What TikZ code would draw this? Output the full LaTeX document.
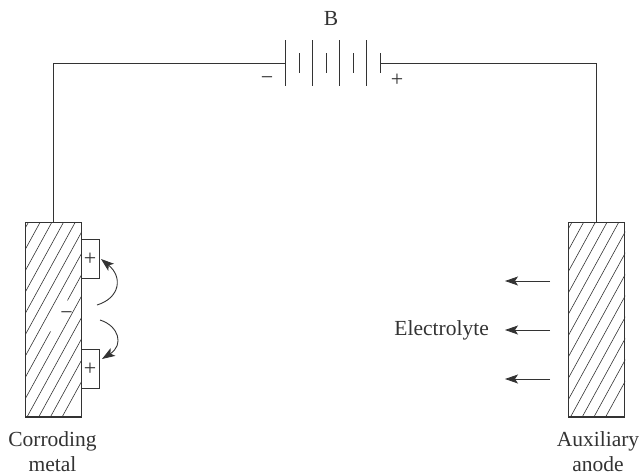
\documentclass[tikz,border=0pt]{standalone}
\usepackage{fontspec}
\setmainfont{Liberation Serif}
\usetikzlibrary{arrows.meta}
\definecolor{ink}{gray}{0.2}
\tikzset{
  wire/.style={draw=ink,line width=0.9pt},
  hatchline/.style={draw=ink,line width=0.6pt},
  block/.style={draw=ink,line width=1.1pt,minimum width=56pt,minimum height=194.5pt,inner sep=0pt,outer sep=0pt},
  chargebox/.style={draw=ink,line width=0.9pt,minimum width=18pt,minimum height=39pt,inner sep=0pt,outer sep=0pt},
  flow/.style={draw=ink,line width=0.9pt,-{Stealth[length=13pt,width=9pt,inset=3pt]}},
  lbl/.style={text=ink,font=\fontsize{21.5}{24.5}\selectfont,inner sep=0pt,align=center},
  sym/.style={text=ink,font=\fontsize{22}{24}\selectfont,inner sep=0pt}
}
\begin{document}
\begin{tikzpicture}[x=1pt,y=-1pt]
\useasboundingbox (0,0) rectangle (641,475);
% hatching
\begin{scope}
\clip (25.5,222.5) rectangle (81,417);
\foreach \k in {-1,...,11}{
  \draw[hatchline] ({40+11.7*\k},222.5) -- ({40+11.7*\k-106.6},417);
}
\fill[white] (47,332) -- (62,329) -- (75,305) -- (65,299) -- cycle;
\end{scope}
\begin{scope}
\clip (568.5,222.5) rectangle (625,417);
\foreach \k in {-1,...,11}{
  \draw[hatchline] ({583.5+11.7*\k},222.5) -- ({583.5+11.7*\k-106.6},417);
}
\end{scope}
\node[block] (metal) at (53.25,319.75) {};
\node[block] (anode) at (596.75,319.75) {};
\node[chargebox,sym] (p1) at (90,259) {+};
\node[chargebox,sym] (p2) at (90,369) {+};
\node[sym] (minus) at (66.5,316) {\textminus};
% battery
\coordinate (bl) at (285,63);
\coordinate (br) at (380,63);
\foreach \x/\n in {285/a,312/b,339/c,366/d}{
  \coordinate (t\n) at (\x,40); \coordinate (u\n) at (\x,86);
  \draw[wire] (t\n) -- (u\n);
}
\foreach \x/\n in {299/e,326/f,353/g,380/h}{
  \coordinate (t\n) at (\x,53); \coordinate (u\n) at (\x,73);
  \draw[wire] (t\n) -- (u\n);
}
\draw[wire] (metal.north) |- (bl);
\draw[wire] (anode.north) |- (br);
\node[lbl] (B) at (331,18) {B};
\node[sym] (bm) at (267,81) {\textminus};
\node[sym] (bp) at (397,80.5) {+};
% curved arrows
\coordinate (c1s) at (97,305);
\coordinate (c1e) at (101,259);
\coordinate (c2s) at (100,320);
\coordinate (c2e) at (102,359);
\draw[flow] (c1s) .. controls (120,298) and (123,277) .. (c1e);
\draw[flow] (c2s) .. controls (119,326) and (124,345) .. (c2e);
% electrolyte arrows
\foreach \y/\n in {281/a,330/b,379/c}{
  \coordinate (fs\n) at (550,\y);
  \coordinate (fe\n) at (505,\y);
  \draw[flow] (fs\n) -- (fe\n);
}
\node[lbl,anchor=east] (el) at (489,330) {Electrolyte};
\node[lbl] (cm) at (52.5,451.5) {Corroding\\metal};
\node[lbl] (aa) at (598,451.5) {Auxiliary\\anode};
\end{tikzpicture}
\end{document}
